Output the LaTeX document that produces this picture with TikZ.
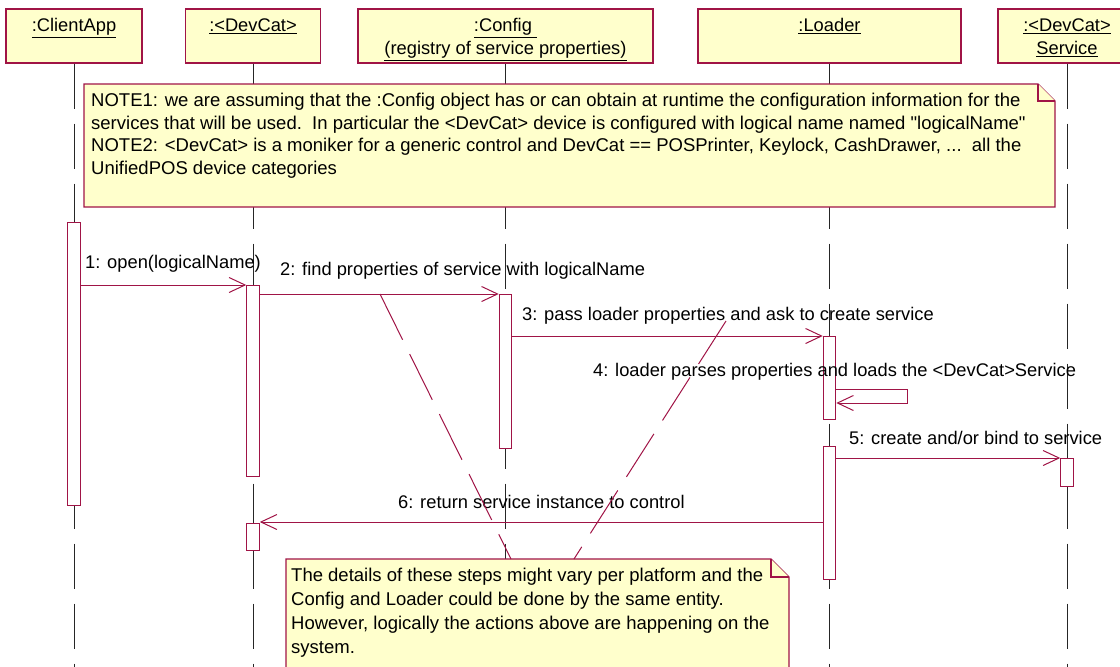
\documentclass[tikz,border=0pt]{standalone}
\usepackage{fontspec}
\setmainfont{Liberation Sans}
\usetikzlibrary{arrows.meta,positioning}
\definecolor{umlred}{RGB}{160,20,70}
\definecolor{umlfill}{RGB}{255,255,204}
\newcommand{\umlfont}{\fontsize{18.3}{23}\selectfont}
\newcommand{\notefont}{\fontsize{18.5}{22.5}\selectfont}
\newcommand{\objname}[2]{\rule{0pt}{21pt}\underline{#1}\\\strut\underline{#2}}
\tikzset{
  objbox/.style={draw=umlred, fill=umlfill, line width=1.2pt, align=center,
    minimum height=54, inner sep=0pt, font=\umlfont},
  actbar/.style={draw=umlred, fill=white, line width=1pt, minimum width=12.5,
    inner sep=0pt, anchor=north},
  lifeline/.style={draw=black!85, line width=0.9pt, dash pattern=on 45pt off 15pt},
  notebox/.style={draw=umlred, fill=umlfill, line width=1.2pt, line join=miter},
  notetext/.style={anchor=north west, align=left, inner sep=0pt, font=\notefont},
  noteline/.style={draw=umlred, line width=1pt, dash pattern=on 51pt off 16pt},
  msg/.style={draw=umlred, line width=1pt, -{Straight Barb[length=16pt,width=15pt]}},
  msglabel/.style={anchor=west, inner sep=0pt, font=\umlfont}
}
\begin{document}
\begin{tikzpicture}[x=1pt,y=-1pt]
\clip (0,0) rectangle (1120,667);
% Draw the objects
\node[objbox, minimum width=136] (client) at (74,36) {\objname{:ClientApp}{}};
\node[objbox, minimum width=135] (devcat) at (253,36) {\objname{:<DevCat>}{}};
\node[objbox, minimum width=295] (config) at (505.5,36) {\objname{:Config\ }{(registry of service properties)}};
\node[objbox, minimum width=263] (loader) at (829.5,36) {\objname{:Loader}{}};
\node[objbox, minimum width=138] (service) at (1067,36) {\objname{:<DevCat>}{Service}};

% the lifelines
\coordinate (bottom) at (0,667);
\foreach \o in {client,devcat,config,loader,service} {
\draw[lifeline] (\o.south) -- (\o.south |- bottom);
}

% top note
\draw[notebox] (84,84) -- (1038,84) -- (1055,101) -- (1055,207) -- (84,207) -- cycle;
\draw[notebox] (1038,84) |- (1055,101);
\node[notetext] (note1) at (91,93) {NOTE1: we are assuming that the :Config object has or can obtain at runtime the configuration information for the\\
services that will be used.\ \ In particular the <DevCat> device is configured with logical name named \textquotedbl logicalName\textquotedbl\\
NOTE2: <DevCat> is a moniker for a generic control and DevCat == POSPrinter, Keylock, CashDrawer, ...\ \ all the\\
UnifiedPOS device categories};

% activations
\node[actbar, minimum height=283] (bClient) at (client.south |- 0,222) {};
\node[actbar, minimum height=191] (bDevcat1) at (devcat.south |- 0,285) {};
\node[actbar, minimum height=154] (bConfig) at (config.south |- 0,294) {};
\node[actbar, minimum height=83] (bLoader1) at (loader.south |- 0,336) {};
\node[actbar, minimum height=133] (bLoader2) at (loader.south |- 0,446) {};
\node[actbar, minimum height=28] (bService) at (service.south |- 0,458) {};
\node[actbar, minimum height=27] (bDevcat2) at (devcat.south |- 0,523) {};

% the messages
\draw[msg] (bClient.east |- 0,285) -- (bDevcat1.west |- 0,285);
\draw[msg] (bDevcat1.east |- 0,294) -- (bConfig.west |- 0,294);
\draw[msg] (bConfig.east |- 0,336) -- (bLoader1.west |- 0,336);
\draw[msg] (bLoader1.east |- 0,389) -- ++(71,0) -- ++(0,14) -- (bLoader1.east |- 0,403);
\draw[msg] (bLoader2.east |- 0,458) -- (bService.west |- 0,458);
\draw[msg] (bLoader2.west |- 0,522) -- (bDevcat2.east |- 0,522);

\node[msglabel] (m1) at (85,264) {1: open(logicalName)};
\node[msglabel] (m2) at (280,271) {2: find properties of service with logicalName};
\node[msglabel] (m3) at (522,316) {3: pass loader properties and ask to create service};
\node[msglabel] (m4) at (593,372) {4: loader parses properties and loads the <DevCat>Service};
\node[msglabel] (m5) at (849,438) {5: create and/or bind to service};
\node[msglabel] (m6) at (398,502) {6: return service instance to control};

% bottom note
\draw[notebox] (286,559) -- (771,559) -- (789,577) -- (789,680) -- (286,680) -- cycle;
\draw[notebox] (771,559) |- (789,577);
\node[notetext, font=\fontsize{18.5}{24}\selectfont] (note2) at (291,568) {The details of these steps might vary per platform and the\\
Config and Loader could be done by the same entity.\\
However, logically the actions above are happening on the\\
system.};

% note anchors
\coordinate (t2) at (511,559);
\coordinate (t3) at (574,559);
\coordinate (a2) at (380,294);
\coordinate (a3) at (726,321);
\draw[noteline] (a2) -- (t2);
\draw[noteline] (a3) -- (t3);
\end{tikzpicture}
\end{document}
